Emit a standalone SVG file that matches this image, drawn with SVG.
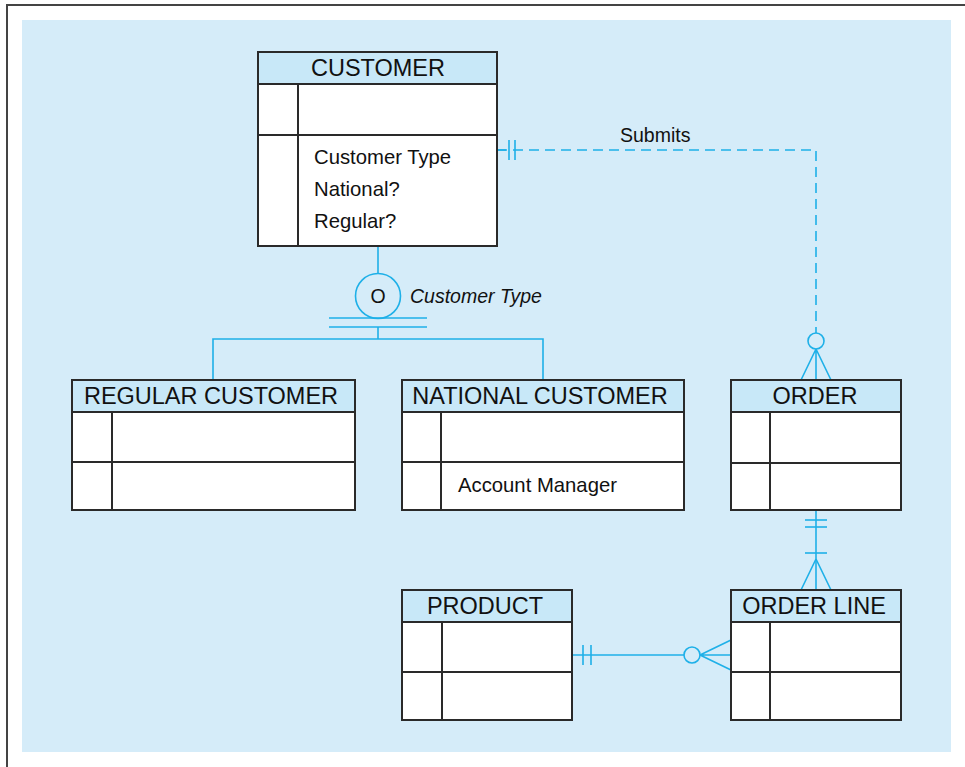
<svg xmlns="http://www.w3.org/2000/svg" width="965" height="767" viewBox="0 0 965 767">
<style>
.frame{fill:none;stroke:#444;stroke-width:2}
.bg{fill:#d5ecf9}
.box{fill:#fff;stroke:#2a2a2a;stroke-width:2}
.hdr{fill:#c8e8f8;stroke:#2a2a2a;stroke-width:2}
.div{stroke:#2a2a2a;stroke-width:2;fill:none}
.title{font-family:"Liberation Sans",Arial,sans-serif;font-size:23.5px;fill:#111;text-anchor:middle}
.attr{font-family:"Liberation Sans",Arial,sans-serif;font-size:20.3px;fill:#111}
.lbl{font-family:"Liberation Sans",Arial,sans-serif;font-size:19.5px;fill:#111}
.ln{stroke:#1eb0e8;stroke-width:1.6;fill:none}
.dash{stroke:#1eb0e8;stroke-width:1.6;fill:none;stroke-dasharray:10 6}
</style>
<path class="frame" d="M7,767 V5 H965"/>
<rect class="bg" x="22" y="20" width="929" height="732"/>

<g id="connectors">
  <!-- Submits -->
  <path class="dash" d="M497,150 H816 V333"/>
  <line class="ln" x1="497" y1="150" x2="506" y2="150"/>
  <line class="ln" x1="509" y1="140" x2="509" y2="160"/>
  <line class="ln" x1="515" y1="140" x2="515" y2="160"/>
  <circle class="ln" cx="816" cy="341" r="8"/>
  <path class="ln" d="M816,349 V380 M816,349 L801,380 M816,349 L831,380"/>
  <text class="lbl" x="620" y="142">Submits</text>
  <!-- Subtype -->
  <line class="ln" x1="378" y1="246" x2="378" y2="273"/>
  <circle class="ln" cx="378" cy="296" r="22.5"/>
  <text class="lbl" x="378" y="303" text-anchor="middle" font-size="20.5px">O</text>
  <text class="lbl" x="410" y="303" font-style="italic" font-size="20.3px">Customer Type</text>
  <line class="ln" x1="329" y1="318" x2="427" y2="318"/>
  <line class="ln" x1="329" y1="327" x2="427" y2="327"/>
  <path class="ln" d="M378,327 V339 M213,380 V339 H543 V380"/>
  <!-- Order - Order Line -->
  <line class="ln" x1="816" y1="510" x2="816" y2="590"/>
  <line class="ln" x1="805" y1="520" x2="827" y2="520"/>
  <line class="ln" x1="805" y1="527" x2="827" y2="527"/>
  <line class="ln" x1="805" y1="553" x2="827" y2="553"/>
  <path class="ln" d="M816,559 L801,590 M816,559 L831,590"/>
  <!-- Product - Order Line -->
  <line class="ln" x1="572" y1="655" x2="684" y2="655"/>
  <line class="ln" x1="583" y1="645" x2="583" y2="665"/>
  <line class="ln" x1="591" y1="645" x2="591" y2="665"/>
  <circle class="ln" cx="692" cy="655" r="8"/>
  <path class="ln" d="M700,655 H731 M700,655 L731,640 M700,655 L731,670"/>
</g>

<g id="customer">
  <rect class="box" x="258" y="52" width="239" height="194"/>
  <rect class="hdr" x="258" y="52" width="239" height="32"/>
  <path class="div" d="M258,135 H497 M298,84 V246"/>
  <text class="title" x="378" y="76">CUSTOMER</text>
  <text class="attr" x="314" y="164">Customer Type</text>
  <text class="attr" x="314" y="196">National?</text>
  <text class="attr" x="314" y="228">Regular?</text>
</g>

<g id="regular-customer">
  <rect class="box" x="72" y="380" width="283" height="130"/>
  <rect class="hdr" x="72" y="380" width="283" height="32"/>
  <path class="div" d="M72,462 H355 M112,412 V510"/>
  <text class="title" x="211" y="404">REGULAR CUSTOMER</text>
</g>

<g id="national-customer">
  <rect class="box" x="402" y="380" width="282" height="130"/>
  <rect class="hdr" x="402" y="380" width="282" height="32"/>
  <path class="div" d="M402,462 H684 M441,412 V510"/>
  <text class="title" x="540" y="404">NATIONAL CUSTOMER</text>
  <text class="attr" x="458" y="492">Account Manager</text>
</g>

<g id="order">
  <rect class="box" x="731" y="380" width="170" height="130"/>
  <rect class="hdr" x="731" y="380" width="170" height="32"/>
  <path class="div" d="M731,463 H901 M770,412 V510"/>
  <text class="title" x="815" y="404">ORDER</text>
</g>

<g id="order-line">
  <rect class="box" x="731" y="590" width="170" height="130"/>
  <rect class="hdr" x="731" y="590" width="170" height="32"/>
  <path class="div" d="M731,672 H901 M770,622 V720"/>
  <text class="title" x="814" y="614">ORDER LINE</text>
</g>

<g id="product">
  <rect class="box" x="402" y="590" width="170" height="130"/>
  <rect class="hdr" x="402" y="590" width="170" height="32"/>
  <path class="div" d="M402,672 H572 M442,622 V720"/>
  <text class="title" x="485" y="614">PRODUCT</text>
</g>
</svg>
